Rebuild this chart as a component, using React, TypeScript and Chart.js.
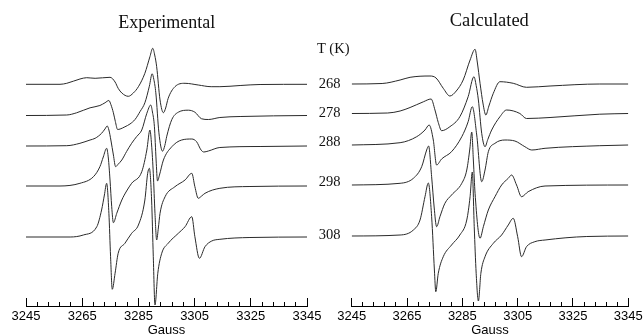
import React, { useEffect, useRef } from 'react';
import { Chart, registerables } from 'chart.js';

Chart.register(...registerables);

// ---- data ----
const fieldMin = 3245;
const fieldMax = 3345;
const majorTicks = [3245, 3265, 3285, 3305, 3325, 3345];
const minorTicks = [
  3245, 3249, 3253, 3257, 3261, 3265, 3269, 3273, 3277, 3281, 3285, 3289, 3293,
  3297, 3301, 3305, 3309, 3313, 3317, 3321, 3325, 3329, 3333, 3337, 3341, 3345,
];
const temperatures = ['268', '278', '288', '298', '308'];
const expOffsets = [221.7, 190.5, 160, 120, 69];
const calcOffsets = [222, 192.5, 161, 121, 70];

// [field (G), signal]
const exp268 = [
  [3245, 0], [3257.1, 0], [3259.5, 1], [3264.2, 5.3], [3266.6, 6.6], [3269.6, 6], [3274.9, 7],
  [3276.7, 2.3], [3277.8, -4], [3279.1, -8.7], [3281.4, -12], [3283.2, -8.7], [3285.0, -2.4],
  [3287.3, 11], [3289.1, 27.6], [3290.1, 36], [3290.8, 29.3], [3291.5, 17.6], [3292.7, -15.7],
  [3293.9, -28.4], [3294.7, -23.7], [3295.6, -14], [3298.0, -2.4], [3301.6, 1], [3306.3, -0.7],
  [3310.9, -2.4], [3314.0, -2.4], [3321.2, -1.2], [3328.3, -0.2], [3345, 0],
];
const exp278 = [
  [3245, 0], [3259.5, 0.5], [3263.0, 2.7], [3267.8, 7.7], [3271.3, 10], [3273.1, 12.7], [3274.5, 15],
  [3275.2, 11], [3276.1, 2.7], [3276.8, -6], [3277.6, -14], [3278.5, -13.5], [3280.2, -11.3],
  [3282.0, -8.5], [3283.8, -4], [3285.6, 4], [3287.3, 12.7], [3288.9, 29.3], [3289.9, 41.7],
  [3290.5, 36], [3291.2, 22.7], [3292.3, -17.3], [3293.6, -35.7], [3294.4, -30], [3295.1, -20.7],
  [3296.9, -4], [3299.2, 3.3], [3302.8, 5.3], [3305.1, 3.3], [3307.5, -3.3], [3309.9, -4],
  [3314.0, -2], [3321.2, -1], [3345, 0],
];
const exp288 = [
  [3245, 0], [3259.5, 0.3], [3264.2, 2.7], [3267.8, 6], [3269.6, 7.7], [3271.9, 12.7], [3273.1, 17],
  [3273.9, 20], [3274.5, 16], [3275.2, 6], [3276.1, -9], [3276.9, -20.7], [3277.7, -18.5],
  [3279.1, -14], [3280.8, -5.5], [3282.6, 2.7], [3284.4, 9.5], [3286.2, 16], [3288.0, 32.7],
  [3289.4, 41], [3290.0, 34], [3290.7, 19.3], [3291.3, -14], [3291.8, -35], [3292.5, -29],
  [3293.9, -14], [3296.9, -0.7], [3300.4, 6], [3304.0, 7], [3305.7, 4.3], [3307.3, -4],
  [3308.3, -6], [3309.9, -5], [3314.0, -1.5], [3328.3, -0.5], [3345, 0],
];
const exp298 = [
  [3245, 0], [3257.1, 0], [3264.2, 2.7], [3269.0, 9.3], [3271.3, 19.3], [3272.5, 29], [3273.7, 37.7],
  [3274.3, 28], [3274.9, 6], [3275.5, -20.7], [3276.1, -36.7], [3277.3, -27.3], [3279.1, -14],
  [3280.8, -5], [3282.6, 2.7], [3286.2, 14.3], [3288.0, 36], [3289.1, 56], [3289.7, 41],
  [3290.3, 12.7], [3290.9, -27.3], [3291.5, -54], [3292.1, -42], [3292.7, -27.3], [3294.5, -10.7],
  [3298.0, -0.7], [3301.6, 6], [3304.0, 12.7], [3305.1, -0.7], [3306.3, -12.3], [3307.5, -10],
  [3308.7, -7.3], [3314.0, -2.3], [3324.7, -0.5], [3345, 0],
];
const exp308 = [
  [3245, 0], [3260.7, 0], [3265.4, 2], [3270.2, 10.3], [3271.9, 27], [3272.9, 42], [3273.7, 53.7],
  [3274.5, 23.7], [3275.1, -19.7], [3275.7, -52.3], [3276.7, -36.3], [3277.8, -16.3], [3280.2, -6.3],
  [3282.6, 3.7], [3285.0, 12], [3287.3, 37], [3288.3, 63.7], [3288.9, 68.7], [3289.7, 37],
  [3290.3, -19.7], [3290.9, -68], [3291.9, -36.3], [3293.3, -16.3], [3295.6, -6.3], [3299.2, 3.7],
  [3301.6, 10.3], [3304.0, 20.3], [3305.1, 0.3], [3306.7, -21.3], [3308.7, -9.7], [3311.1, -4],
  [3314.0, -2.3], [3324.7, -0.5], [3345, 0],
];

const calc268 = [
  [3245, 0], [3256, 0.5], [3262.5, 4], [3266.1, 6.7], [3273.3, 8], [3275.5, 6], [3278.1, -4.3],
  [3280.5, -12], [3282.8, -7], [3285.3, 4], [3287.8, 24], [3289.6, 34.7], [3290.4, 22],
  [3291.4, 0.7], [3292.5, -20], [3293.5, -31], [3294.6, -22], [3296.2, -9.3], [3298.6, 2.3],
  [3303.4, 0.7], [3308.2, -3.3], [3316.7, -2], [3334.7, 0], [3345, 0],
];
const calc278 = [
  [3245, 0], [3258, 0.5], [3262.5, 2.5], [3266.1, 6], [3270.9, 11.7], [3273.7, 14.5], [3275.1, 3.5],
  [3276.3, -9], [3277.5, -17.2], [3280.5, -13.2], [3284.1, -3.2], [3287.1, 16.8], [3289.2, 36.8],
  [3290.0, 28], [3290.8, 13.5], [3292.0, -19.8], [3293.2, -33.2], [3294.2, -26], [3295.6, -16.5],
  [3298.6, -3.2], [3301.0, 3.5], [3305.8, 0], [3308.2, -5], [3316.7, -4], [3334.7, -0.7], [3345, 0],
];
const calc288 = [
  [3245, 0], [3262.5, 2.3], [3268.5, 8.3], [3271.5, 15], [3273.0, 20], [3274.5, 5], [3275.7, -20],
  [3277.5, -14], [3281.1, -6.7], [3284.8, 8.3], [3287.1, 23.3], [3288.6, 38.3], [3290.2, 10],
  [3292.0, -36.7], [3293.2, -25], [3294.4, -6.7], [3296.8, 1.7], [3300.4, 5], [3304.0, 4],
  [3307.6, -1.7], [3310.1, -5], [3314.9, -3.3], [3334.7, -0.7], [3345, 0],
];
const calc298 = [
  [3245, 0], [3262.5, 1.7], [3267.3, 6.7], [3270.3, 18.3], [3272.1, 35], [3272.8, 39], [3273.9, 8.3],
  [3274.8, -22], [3275.7, -41.7], [3276.9, -31.7], [3278.7, -18.3], [3281.1, -10], [3284.8, 1.7],
  [3286.6, 15], [3287.7, 36], [3288.4, 53], [3289.0, 24], [3289.6, -8.3], [3291.4, -53.3],
  [3292.6, -41.7], [3294.4, -25], [3296.8, -11.7], [3299.2, 0], [3301.6, 6.7], [3302.8, 10],
  [3304.6, 0], [3306.4, -11.7], [3308.8, -6.7], [3314.9, -1], [3345, 0],
];
const calc308 = [
  [3245, 0], [3262.5, 1], [3267.3, 6], [3269.7, 16], [3271.5, 39.3], [3272.7, 53], [3273.9, 19.3],
  [3274.9, -34], [3275.4, -55.7], [3276.3, -37.3], [3278.1, -20.7], [3281.1, -9], [3284.1, 1],
  [3286.6, 16], [3287.8, 39.3], [3288.6, 64], [3289.3, 9.3], [3290.0, -37.3], [3290.8, -65],
  [3291.7, -37.3], [3293.2, -20.7], [3296.2, -7.3], [3299.2, 1], [3301.6, 11], [3303.4, 17.7],
  [3305.0, -0.7], [3306.4, -20.7], [3308.2, -10.7], [3311.2, -5.7], [3314.9, -4], [3330, -0.5],
  [3345, 0],
];

const expTraces = [exp268, exp278, exp288, exp298, exp308];
const calcTraces = [calc268, calc278, calc288, calc298, calc308];

const SANS = '"Liberation Sans", Arial, Helvetica, sans-serif';
const SERIF = '"Liberation Serif", "Times New Roman", Times, serif';

type PanelProps = {
  traces: number[][][];
  offsets: number[];
  left: number;
  width: number;
  padLeft: number;
  padRight: number;
};

function SpectraPanel({ traces, offsets, left, width, padLeft, padRight }: PanelProps) {
  const ref = useRef<HTMLCanvasElement>(null);
  useEffect(() => {
    if (!ref.current) return;
    const datasets = traces.map((t, i) => ({
      data: t.map(([g, a]) => ({ x: g, y: offsets[i] + a })),
      borderColor: '#2a2a2a',
      borderWidth: 1,
      pointRadius: 0,
      fill: false,
      cubicInterpolationMode: 'monotone' as const,
      xAxisID: 'x',
      yAxisID: 'y',
    }));
    const setTicks = (vals: number[]) => (scale: any) => {
      scale.ticks = vals.map((v) => ({ value: v }));
    };
    const chart = new Chart(ref.current, {
      type: 'line',
      data: { datasets },
      options: {
        animation: false,
        responsive: false,
        maintainAspectRatio: false,
        events: [],
        layout: { padding: { left: padLeft, right: padRight, top: 36, bottom: 3 } },
        plugins: { legend: { display: false }, tooltip: { enabled: false } },
        scales: {
          x: {
            type: 'linear',
            position: 'bottom',
            min: fieldMin,
            max: fieldMax,
            afterBuildTicks: setTicks(majorTicks),
            grid: { display: false, drawTicks: false, drawOnChartArea: false },
            border: { display: true, color: '#000', width: 1 },
            ticks: {
              padding: 0,
              color: '#000',
              autoSkip: false,
              maxRotation: 0,
              font: { family: SANS, size: 13, lineHeight: 21 / 13 },
              callback: (v: any) => String(v),
            },
            title: {
              display: true,
              text: 'Gauss',
              color: '#000',
              font: { family: SANS, size: 13, lineHeight: 1 },
              padding: { top: -3, bottom: 0 },
            },
          },
          xMajor: {
            type: 'linear',
            axis: 'x',
            position: { y: 0 },
            min: fieldMin,
            max: fieldMax,
            afterBuildTicks: setTicks(majorTicks),
            ticks: { display: false },
            grid: { display: true, drawOnChartArea: false, drawTicks: true, tickLength: -8, color: '#000', lineWidth: 1 },
            border: { display: false },
          },
          xMinor: {
            type: 'linear',
            axis: 'x',
            position: { y: 0 },
            min: fieldMin,
            max: fieldMax,
            afterBuildTicks: setTicks(minorTicks),
            ticks: { display: false },
            grid: { display: true, drawOnChartArea: false, drawTicks: true, tickLength: -4, color: '#000', lineWidth: 1 },
            border: { display: false },
          },
          y: { type: 'linear', display: false, min: 0, max: 270 },
        },
      } as any,
    });
    return () => chart.destroy();
  }, []);
  return (
    <canvas
      ref={ref}
      width={width}
      height={340}
      style={{ position: 'absolute', left, top: 0, width, height: 340 }}
    />
  );
}

const tempCenters = [82.5, 111.5, 141, 181, 234];

export default function App() {
  const text = (content: string, cx: number, cy: number, size: number) => (
    <div
      key={content + cy}
      style={{
        position: 'absolute',
        left: cx,
        top: cy,
        transform: 'translate(-50%, -50%)',
        fontFamily: SERIF,
        fontSize: size,
        lineHeight: 1,
        whiteSpace: 'nowrap',
        color: '#111',
      }}
    >
      {content}
    </div>
  );
  return (
    <div
      style={{
        position: 'absolute',
        left: 0,
        top: 0,
        width: 643,
        height: 335,
        overflow: 'hidden',
        background: '#fff',
      }}
    >
      <SpectraPanel traces={expTraces} offsets={expOffsets} left={0} width={330} padLeft={26} padRight={23} />
      <SpectraPanel traces={calcTraces} offsets={calcOffsets} left={330} width={330} padLeft={21.7} padRight={31.7} />
      {text('Experimental', 166.7, 21.5, 18)}
      {text('Calculated', 489.3, 20.3, 18.5)}
      {text('T (K)', 333.3, 47.5, 14.5)}
      {temperatures.map((t, i) => text(t, 329.5, tempCenters[i], 14.5))}
    </div>
  );
}
